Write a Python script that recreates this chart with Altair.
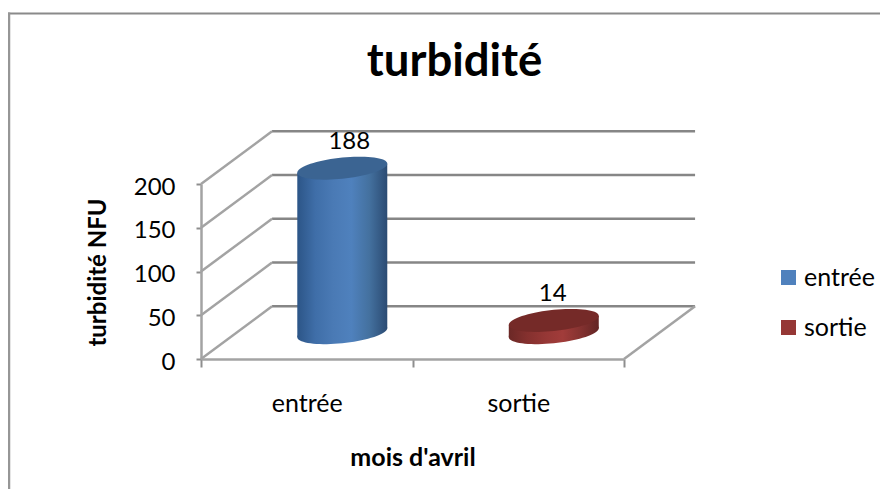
import math
import altair as alt
import pandas as pd

# --- values ---
categories = ["entrée", "sortie"]
values = [188, 14]
y_ticks = [0, 50, 100, 150, 200]
colors = ["#4f81bd", "#953735"]
tops = ["#3b6492", "#752a28"]
ramps = [
    ["#2c5587", "#3f6ea8", "#4a7ab5", "#4f81bd", "#44719f", "#2b4b73"],
    ["#6b2826", "#84302e", "#953735", "#a13c3a", "#843230", "#632524"],
]
label_dx = [7, -1]

# depth of the 3D box, in axis units
DEPTH_X = 0.336
DEPTH_Y = 60.2
BAR_W = 0.4255
TILT = 5.1
FONT = "Lato"

x_q = alt.Scale(domain=[0, 2])
y_s = alt.Scale(domain=[0, 200], nice=False)


def rules(df, color, width):
    return alt.Chart(df).mark_rule(color=color, strokeWidth=width).encode(
        x=alt.X("x:Q", scale=x_q, axis=None),
        x2="x2:Q",
        y=alt.Y("y:Q", scale=y_s),
        y2="y2:Q",
    )


back = pd.DataFrame(
    {"x": DEPTH_X, "x2": 2 + DEPTH_X, "y": [t + DEPTH_Y for t in y_ticks], "y2": [t + DEPTH_Y for t in y_ticks]}
)
side = pd.DataFrame(
    {"x": 0.0, "x2": DEPTH_X, "y": y_ticks, "y2": [t + DEPTH_Y for t in y_ticks]}
)
floor_right = pd.DataFrame({"x": [2.0], "x2": [2 + DEPTH_X], "y": [0.0], "y2": [DEPTH_Y]})

# tilted ellipse outline used for cylinder caps
pts = []
for i in range(72):
    t = 2 * math.pi * i / 72
    pts.append((math.cos(t), -0.1 * math.cos(t) + 0.235 * math.sin(t)))
ELLIPSE = "M" + "L".join(f"{a:.4f},{b:.4f}" for a, b in pts) + "Z"
CAP_SIZE = 8100

layers = [
    rules(back, "#868686", 2.5),
    rules(side, "#a3a3a3", 2.5),
    rules(floor_right, "#a3a3a3", 2.5),
]

for i, (cat, val) in enumerate(zip(categories, values)):
    cx = i + 0.5 + DEPTH_X / 2
    base = DEPTH_Y / 2
    df = pd.DataFrame(
        {"cx": [cx], "y": [base], "y2": [base + val], "v": [val]}
    )
    body = pd.DataFrame(
        {
            "x": [cx - BAR_W / 2, cx + BAR_W / 2],
            "lo": [base - TILT, base + TILT],
            "hi": [base + val - TILT, base + val + TILT],
        }
    )
    grad = alt.LinearGradient(
        gradient="linear",
        x1=0,
        x2=1,
        y1=0,
        y2=0,
        stops=[
            alt.GradientStop(offset=k / (len(ramps[i]) - 1), color=c)
            for k, c in enumerate(ramps[i])
        ],
    )
    ch = alt.Chart(df)
    cap_x = alt.X("cx:Q", scale=x_q, axis=None)
    layers.append(
        ch.mark_point(shape=ELLIPSE, size=CAP_SIZE, filled=True, fill=grad, opacity=1, strokeWidth=0).encode(
            x=cap_x, y=alt.Y("y:Q", scale=y_s)
        )
    )
    layers.append(
        alt.Chart(body).mark_area(fill=grad, opacity=1).encode(
            x=alt.X("x:Q", scale=x_q, axis=None),
            y=alt.Y("hi:Q", scale=y_s),
            y2="lo:Q",
        )
    )
    layers.append(
        ch.mark_point(shape=ELLIPSE, size=CAP_SIZE, filled=True, fill=tops[i], opacity=1, strokeWidth=0).encode(
            x=cap_x, y=alt.Y("y2:Q", scale=y_s)
        )
    )
    layers.append(
        ch.mark_text(font=FONT, fontSize=24, color="#000000", dy=-26, dx=label_dx[i]).encode(
            x=cap_x, y=alt.Y("y2:Q", scale=y_s), text="v:Q"
        )
    )

marks = alt.layer(*layers)

# category axis, left wall axis and legend
cat_df = pd.DataFrame({"cat": categories, "val": values})
axes = (
    alt.Chart(cat_df)
    .mark_square(size=1, opacity=0)
    .encode(
        x=alt.X(
            "cat:N",
            sort=categories,
            scale=alt.Scale(paddingInner=0, paddingOuter=0),
            axis=alt.Axis(
                title="mois d'avril",
                orient="bottom",
                labelAngle=0,
                labelFont=FONT,
                labelFontSize=25,
                labelColor="#000000",
                labelPadding=24,
                titleFont=FONT,
                titleFontSize=25,
                titleFontWeight="bold",
                titleColor="#000000",
                titlePadding=29,
                tickBand="extent",
                tickSize=8,
                tickColor="#8e8e8e",
                tickWidth=2,
                domainColor="#a3a3a3",
                domainWidth=2.5,
                grid=False,
            ),
        ),
        y=alt.Y(
            "val:Q",
            scale=y_s,
            axis=alt.Axis(
                title="turbidité NFU",
                values=y_ticks,
                labelFont=FONT,
                labelFontSize=24,
                labelColor="#000000",
                labelPadding=21,
                labelOffset=3,
                titleFont=FONT,
                titleFontSize=24,
                titleFontWeight="bold",
                titleColor="#000000",
                titleX=-103,
                titleY=88,
                titleAlign="center",
                titleBaseline="middle",
                tickSize=5,
                tickColor="#8e8e8e",
                tickWidth=2,
                domainColor="#a3a3a3",
                domainWidth=2.5,
                grid=False,
            ),
        ),
        color=alt.Color(
            "cat:N",
            sort=categories,
            scale=alt.Scale(domain=categories, range=colors),
            legend=alt.Legend(
                title=None,
                orient="none",
                legendX=575,
                legendY=81,
                symbolType="square",
                symbolSize=225,
                symbolOpacity=1,
                symbolStrokeWidth=0,
                labelFont=FONT,
                labelFontSize=25,
                labelColor="#000000",
                labelOffset=3,
                rowPadding=24,
                symbolOffset=0,
                padding=0,
            ),
        ),
    )
)

frame_top = alt.Chart(pd.DataFrame({"k": [0]})).mark_rule(color="#8a8a8a", strokeWidth=2).encode(
    x=alt.value(-193), x2=alt.value(687), y=alt.value(-170.5), y2=alt.value(-170.5)
)
frame_left = alt.Chart(pd.DataFrame({"k": [0]})).mark_rule(color="#969696", strokeWidth=2.5).encode(
    x=alt.value(-192), x2=alt.value(-192), y=alt.value(-171.5), y2=alt.value(309)
)

chart = (
    alt.layer(axes, marks, frame_top, frame_left)
    .resolve_scale(x="independent")
    .properties(
        width=423,
        height=175,
        background="#ffffff",
        padding={"left": 193, "top": 176, "right": 256, "bottom": 130},
        autosize=alt.AutoSizeParams(type="none"),
        title=alt.TitleParams(
            "turbidité",
            font=FONT,
            fontSize=45.5,
            fontWeight="bold",
            color="#000000",
            anchor="middle",
            frame="group",
            dx=42,
            dy=74,
            offset=0,
        ),
    )
    .configure_view(stroke=None)
)

chart.save("out.html", embed_options={"renderer": "svg", "actions": False})
